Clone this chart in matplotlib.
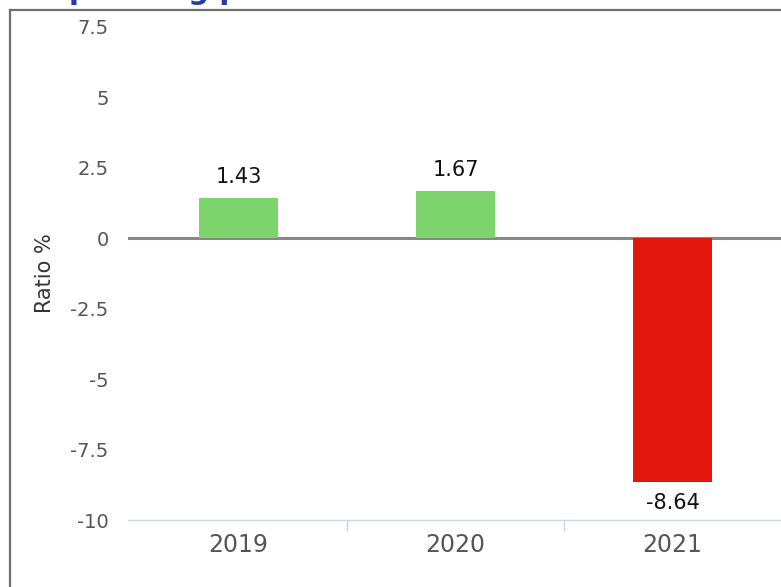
import numpy as np
import matplotlib.pyplot as plt
from matplotlib.lines import Line2D

years = ["2019", "2020", "2021"]
ratios = [1.43, 1.67, -8.64]
bar_colors = ["#7dd46c", "#7dd46c", "#e2160d"]
yticks = [-10, -7.5, -5, -2.5, 0, 2.5, 5, 7.5]

W, H = 781, 587
fig = plt.figure(figsize=(W / 100, H / 100), dpi=100)
ax = fig.add_axes([128 / W, 67 / H, 653 / W, 493 / H])

x = np.arange(len(years))
ax.axhline(0, color="#8c8782", lw=2.2, zorder=1)
ax.bar(x, ratios, width=0.364, color=bar_colors, zorder=2)

for xi, v in zip(x, ratios):
    if v >= 0:
        ax.annotate(f"{v:.2f}", (xi, v), xytext=(0, 8), textcoords="offset points",
                    ha="center", va="bottom", fontsize=15, color="#111")
    else:
        ax.annotate(f"{v:.2f}", (xi, v), xytext=(0, -8), textcoords="offset points",
                    ha="center", va="top", fontsize=15, color="#111")

ax.set_xlim(-0.51, 2.5)
ax.set_ylim(-10, 7.5)
ax.set_yticks(yticks)
ax.set_yticklabels([f"{t:g}" for t in yticks])
ax.set_xticks(x)
ax.set_xticklabels(years)
ax.set_xticks([0.5, 1.5], minor=True)

ax.tick_params(axis="y", length=0, pad=14, labelsize=14, labelcolor="#555")
ax.tick_params(axis="x", length=0, pad=9, labelsize=17, labelcolor="#555")
ax.tick_params(axis="x", which="minor", length=8, color="#c8d4e6", width=1)

for s in ["top", "right", "left"]:
    ax.spines[s].set_visible(False)
ax.spines["bottom"].set_color("#cdd9ea")
ax.spines["bottom"].set_linewidth(1)

fig.text(45 / W, 1 - 273 / H, "Ratio %", rotation=90, ha="center", va="center",
         fontsize=15, color="#333")

# title mostly cut off at the top of the scan
fig.text(44 / W, 1 + 1 / H, "Operating profit ratio", ha="left", va="baseline",
         fontsize=21, fontweight="bold", color="#1f3fa6")

# outer box of the scanned panel
fig.add_artist(Line2D([10 / W, 1], [1 - 10 / H, 1 - 10 / H], transform=fig.transFigure,
                      color="#707070", lw=1.6))
fig.add_artist(Line2D([10 / W, 10 / W], [0, 1 - 10 / H], transform=fig.transFigure,
                      color="#707070", lw=1.6))

fig.savefig("out.png", dpi=100)
